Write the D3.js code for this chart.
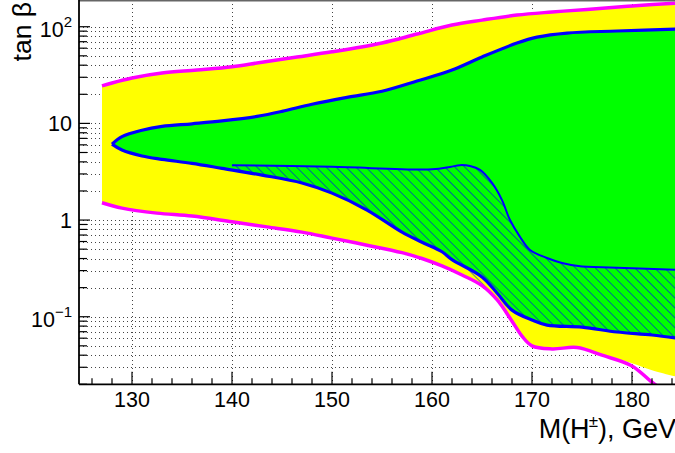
<!DOCTYPE html>
<html>
<head>
<meta charset="utf-8">
<script src="https://cdn.jsdelivr.net/npm/d3@7"></script>
<style>
  body { margin: 0; background: #fff; }
  text { font-family: "Liberation Sans", Arial, Helvetica, sans-serif; fill: #000; }
</style>
</head>
<body>
<script>
// values (x: M(H+) in GeV, y: tan beta)

// outer (yellow) band, magenta borders
const yellowTopX = [127, 128, 130, 133, 136.5, 140, 143, 146.5, 150, 155, 158.5, 162, 165, 168.5, 172, 175.5, 180, 185];
const yellowTopY = [24.4, 26.2, 29.5, 33.2, 35.6, 38.5, 43, 48.6, 55, 68, 84, 104, 117, 132, 142, 151, 164, 177];
const magLowX = [127, 129, 132.5, 136, 140, 143.5, 147, 150, 153.5, 157, 159, 161, 163, 165, 166.5, 168, 169, 170, 172, 174.5, 177, 180, 182, 184];
const magLowY = [1.51, 1.33, 1.18, 1.1, 0.96, 0.85, 0.75, 0.65, 0.55, 0.46, 0.4, 0.335, 0.27, 0.21, 0.15, 0.09, 0.063, 0.05, 0.0465, 0.048, 0.04, 0.031, 0.021, 0.015];
const yellowLowX = [127, 129, 132.5, 136, 140, 143.5, 147, 150, 153.5, 157, 159, 161, 163, 165, 166.5, 168, 169, 170, 172, 174.5, 177, 180, 182, 185];
const yellowLowY = [1.51, 1.33, 1.18, 1.1, 0.96, 0.85, 0.75, 0.65, 0.55, 0.46, 0.4, 0.335, 0.27, 0.21, 0.15, 0.09, 0.063, 0.05, 0.0465, 0.048, 0.041, 0.033, 0.028, 0.0232];

// inner (green) region, blue borders
const greenTopX = [128, 129, 131, 133, 136, 139, 142.5, 145, 148, 151.5, 155, 158.5, 162, 165, 168.5, 170.5, 173.5, 178.5, 185];
const greenTopY = [6.1, 7.3, 8.5, 9.3, 9.9, 10.6, 11.8, 13.3, 15.8, 18.6, 21.5, 27.4, 35.6, 48.6, 67.8, 78, 86, 90.3, 95];
const greenLowX = [128, 129, 131, 133, 136, 139, 143, 147, 150, 153.5, 157, 159, 161, 162, 165, 166.5, 168, 170, 171.5, 175, 178.5, 182, 185];
const greenLowY = [6.1, 5.3, 4.6, 4.25, 3.86, 3.43, 2.92, 2.42, 1.9, 1.27, 0.75, 0.59, 0.47, 0.39, 0.258, 0.176, 0.117, 0.0925, 0.082, 0.078, 0.0695, 0.0647, 0.059];

// hatched region
const hatchTopX = [140, 150, 160, 161.8, 162.8, 163.8, 164.8, 166, 167, 167.8, 168.8, 169.8, 171.5, 173, 175, 177, 185];
const hatchTopY = [3.7, 3.55, 3.35, 3.54, 3.7, 3.62, 3.3, 2.42, 1.61, 1.0, 0.67, 0.49, 0.405, 0.36, 0.33, 0.325, 0.305];
const hatchLowX = [140, 143, 147, 150, 153.5, 157, 159, 161, 162, 164.8, 166.5, 168, 170, 171.5, 175, 178.5, 182, 185];
const hatchLowY = [3.3, 2.92, 2.42, 1.9, 1.27, 0.75, 0.59, 0.47, 0.39, 0.223, 0.16, 0.112, 0.0925, 0.082, 0.078, 0.0695, 0.0647, 0.059];

// axes
const xTicks = [130, 140, 150, 160, 170, 180];
const yTicks = [0.1, 1, 10, 100];
const yTickLabels = [["10", "\u22121"], ["1", ""], ["10", ""], ["10", "2"]];

const W = 675, H = 453;
const pLeft = 79, pRight = 682, pTop = 0, pBottom = 384.3;

const x = d3.scaleLinear().domain([124.7, 185]).range([pLeft, pRight]);
const y = d3.scaleLog().domain([0.02, 189]).range([pBottom, pTop]);

const xMinor = d3.range(126, 186, 2).filter(v => !xTicks.includes(v));
let yAll = [];
[0.01, 0.1, 1, 10, 100].forEach(dec => {
  for (let k = 1; k <= 9; k++) {
    const v = +(k * dec).toPrecision(3);
    if (v >= 0.02 && v <= 189) yAll.push(v);
  }
});
const yMinor = yAll.filter(v => !yTicks.includes(v));

const svg = d3.select("body").append("svg").attr("width", W).attr("height", H);
svg.append("rect").attr("width", W).attr("height", H).attr("fill", "#fff");

const defs = svg.append("defs");
defs.append("clipPath").attr("id", "frame")
  .append("rect").attr("x", pLeft).attr("y", pTop)
  .attr("width", pRight - pLeft).attr("height", pBottom - pTop);
const pat = defs.append("pattern").attr("id", "hatch")
  .attr("patternUnits", "userSpaceOnUse")
  .attr("width", 7).attr("height", 7)
  .attr("patternTransform", "rotate(-45)");
pat.append("line").attr("x1", 0).attr("y1", 0).attr("x2", 0).attr("y2", 7)
  .attr("stroke", "#0000ff").attr("stroke-width", 1.2);

// grid
const grid = svg.append("g").attr("stroke", "#444").attr("stroke-width", 1)
  .attr("stroke-dasharray", "1,3");
grid.selectAll(".gx").data(xTicks).join("line")
  .attr("x1", d => Math.round(x(d)) + 0.5).attr("x2", d => Math.round(x(d)) + 0.5)
  .attr("y1", pTop).attr("y2", pBottom);
grid.selectAll(".gy").data(yAll).join("line")
  .attr("x1", pLeft).attr("x2", pRight)
  .attr("y1", d => Math.round(y(d)) + 0.5).attr("y2", d => Math.round(y(d)) + 0.5);

const pts = (xs, ys) => xs.map((v, i) => [v, ys[i]]);
const line = d3.line().x(d => x(d[0])).y(d => y(d[1])).curve(d3.curveCatmullRom.alpha(0.5));
function band(upper, lower) {
  const a = line(upper);
  const b = line(lower.slice().reverse());
  return a + "L" + b.slice(1) + "Z";
}

const plot = svg.append("g").attr("clip-path", "url(#frame)");

plot.append("path")
  .attr("d", band(pts(yellowTopX, yellowTopY), pts(yellowLowX, yellowLowY)))
  .attr("fill", "#ffff00");
plot.append("path")
  .attr("d", band(pts(greenTopX, greenTopY), pts(greenLowX, greenLowY)))
  .attr("fill", "#00ff00");
plot.append("path")
  .attr("d", band(pts(hatchTopX, hatchTopY), pts(hatchLowX, hatchLowY)))
  .attr("fill", "url(#hatch)");

// borders
plot.append("path").attr("d", line(pts(yellowTopX, yellowTopY)))
  .attr("fill", "none").attr("stroke", "#ff00ff").attr("stroke-width", 3.5);
plot.append("path").attr("d", line(pts(magLowX, magLowY)))
  .attr("fill", "none").attr("stroke", "#ff00ff").attr("stroke-width", 3.5);
plot.append("path").attr("d", line(pts(greenTopX, greenTopY)))
  .attr("fill", "none").attr("stroke", "#0000ff").attr("stroke-width", 3.2);
plot.append("path").attr("d", line(pts(greenLowX, greenLowY)))
  .attr("fill", "none").attr("stroke", "#0000ff").attr("stroke-width", 3.2);
plot.append("path").attr("d", line(pts(hatchTopX, hatchTopY)))
  .attr("fill", "none").attr("stroke", "#0000ff").attr("stroke-width", 2);

// frame top
svg.append("line").attr("x1", pLeft).attr("x2", W).attr("y1", 0.7).attr("y2", 0.7)
  .attr("stroke", "#666").attr("stroke-width", 1.6);

// axes lines and ticks
const ax = svg.append("g").attr("stroke", "#000");
ax.append("line").attr("x1", pLeft).attr("x2", pLeft).attr("y1", 0).attr("y2", pBottom)
  .attr("stroke-width", 1.8);
ax.append("line").attr("x1", pLeft).attr("x2", W).attr("y1", pBottom).attr("y2", pBottom)
  .attr("stroke-width", 1.8);
ax.selectAll(".xt").data(xTicks).join("line")
  .attr("x1", d => x(d)).attr("x2", d => x(d))
  .attr("y1", pBottom).attr("y2", pBottom - 12.5).attr("stroke-width", 1.2);
ax.selectAll(".xm").data(xMinor).join("line")
  .attr("x1", d => x(d)).attr("x2", d => x(d))
  .attr("y1", pBottom).attr("y2", pBottom - 6).attr("stroke-width", 1.2);
ax.selectAll(".yt").data(yTicks).join("line")
  .attr("x1", pLeft).attr("x2", pLeft + 11)
  .attr("y1", d => y(d)).attr("y2", d => y(d)).attr("stroke-width", 1.2);
ax.selectAll(".ym").data(yMinor).join("line")
  .attr("x1", pLeft).attr("x2", pLeft + 8)
  .attr("y1", d => y(d)).attr("y2", d => y(d)).attr("stroke-width", 1.2);

// tick labels
svg.append("g").selectAll("text").data(xTicks).join("text")
  .attr("x", d => x(d)).attr("y", 406.7)
  .attr("text-anchor", "middle").attr("font-size", 21.5)
  .text(d => d);

const yl = svg.append("g").selectAll("text").data(yTicks).join("text")
  .attr("x", 72)
  .attr("y", (d, i) => y(d) + (yTickLabels[i][1] ? 10 : 7.5))
  .attr("text-anchor", "end").attr("font-size", 21.5);
yl.append("tspan").text((d, i) => yTickLabels[i][0]);
yl.append("tspan").attr("font-size", 15).attr("dy", -9.5)
  .text((d, i) => yTickLabels[i][1]);

// axis titles
const xt = svg.append("text").attr("x", 676).attr("y", 438.3)
  .attr("text-anchor", "end").attr("font-size", 27);
xt.append("tspan").text("M(H");
xt.append("tspan").attr("font-size", 17).attr("dy", -11).attr("dx", -1).text("\u00b1");
xt.append("tspan").attr("dy", 11).text("), GeV");

svg.append("text").attr("transform", "translate(31,2) rotate(-90)")
  .attr("text-anchor", "end").attr("font-size", 26.5)
  .text("tan \u03b2");
</script>
</body>
</html>
